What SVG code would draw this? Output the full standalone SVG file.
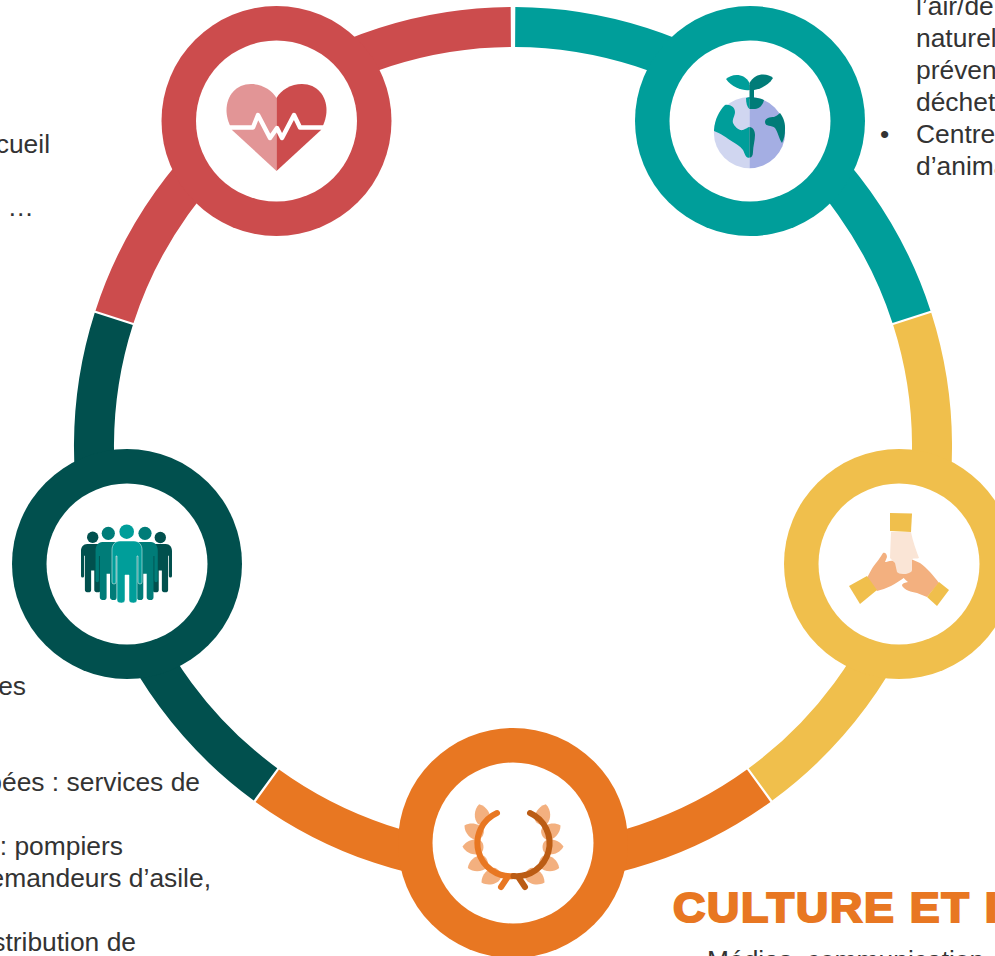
<svg xmlns="http://www.w3.org/2000/svg" width="995" height="956" viewBox="0 0 995 956">
<style>
.t{font-family:"Liberation Sans",Arial,sans-serif;font-size:26.4px;fill:#333}
.e{text-anchor:end}
.arc{fill:none;stroke-width:40}
.inner{fill:#fff}
.leaf{fill:#f3b07f}
</style>
<defs>
<path id="person" d="M120 541H134C139 541 142 545 142 550V582Q142 584 140 584Q138 584 138 582V556H137V600Q137 603 133.500 603Q129 603 129 600V575H125V600Q125 603 121.500 603Q117 603 117 600V556H116V582Q116 584 114 584Q112 584 112 582V550C112 545 115 541 120 541Z"/>
<path id="leaf" d="M0 -11C7 -7 9 2 6.500 7C4 11 -4 11 -6.500 7C-9 2 -7 -7 0 -11Z"/>
</defs>
<rect width="995" height="956" fill="#fff"/>
<g id="connectors">
<path class="arc" stroke="#009e9a" d="M515.200 27A419 419 0 0 1 911.500 316.800"/>
<path class="arc" stroke="#f0bf4c" d="M912.200 318.900A419 419 0 0 1 760.500 784.400"/>
<path class="arc" stroke="#e87722" d="M758.700 785.700A419 419 0 0 1 267.300 785.700"/>
<path class="arc" stroke="#01504e" d="M265.500 784.400A419 419 0 0 1 113.800 318.900"/>
<path class="arc" stroke="#cc4c4d" d="M114.500 316.800A419 419 0 0 1 510.800 27"/>
</g>
<g id="node-health">
<circle cx="276.500" cy="121" r="115" fill="#cc4c4d"/><circle class="inner" cx="276.500" cy="121" r="80.500"/>
<path fill="#e29596" d="M276.500 98C272 90 262 84 251 84C236 84 226.500 96 226.500 110C226.500 116 228 122 232 130L276.500 171Z"/>
<path fill="#cc4c4d" d="M276.500 98C281 90 291 84 302 84C317 84 326.500 96 326.500 110C326.500 116 325 122 321 130L276.500 171Z"/>
<path fill="none" stroke="#fff" stroke-width="4.500" stroke-linejoin="round" d="M228 127.500H253L258 115L270 138L277 128L282 138L294 115L300 127.500H325"/>
</g>
<g id="node-environment">
<circle cx="750" cy="121" r="115" fill="#009e9a"/><circle class="inner" cx="750" cy="121" r="80.500"/>
<path fill="#d0d6f0" d="M749.500 97A35.600 35.600 0 0 0 749.500 168.300Z"/>
<path fill="#a4aee3" d="M749.500 97A35.600 35.600 0 0 1 749.500 168.300Z"/>
<path fill="#009e9a" d="M714 130C715 119 719 111 725 105C730 104 735 107 735 112C735 116 732 119 733 123C735 127 739 131 743 130C746 129 748 127 749.500 127V157.500C746 159 745 154 743 150C740 146 736 144 733 142C727 138 720 133 714 131Z"/>
<path fill="#007c78" d="M749.500 127C753 127 755 131 755 135C755 141 753 146 753 152C753 156 751 158 749.500 157.500Z"/>
<path fill="#007c78" d="M780 113C784 118 785.500 124 785 130C785 135 784 139 782 143C779 139 778 132 775 128C772 125 765 127 765 122C765 118 770 117 774 117C776 116 778 115 780 113Z"/>
<path fill="#009e9a" d="M746 98C747 97.500 748 97.300 749.500 97.200V109C747 107 746 103 746 98Z"/>
<path fill="#007c78" d="M749.500 97.200C754 97 760 98 764 100C763 105 759 109 755 109C752 109 750.500 109 749.500 109Z"/>
<path fill="#009e9a" d="M749.500 83V90C744 91 732 88 726 79C731 74 744 72 749.500 83Z"/>
<path fill="#007c78" d="M749.500 83V90C754 91 767 88 773 78C768 73 755 72 749.500 83Z"/>
<rect x="749.500" y="85" width="4.500" height="14" fill="#007c78"/>
</g>
<g id="node-solidarity">
<circle cx="899" cy="564" r="115" fill="#f0bf4c"/><circle class="inner" cx="899" cy="564" r="80.500"/>
<path fill="#f3b07f" d="M911 559L920 563C927 568 934 576 939 583L927 597L917 593C911 592 905 590 903 587C901 585 902 583 908 582C903 578 900 574 903 570Z"/>
<path fill="#f3b07f" d="M867 578C869 574 871 570 873 567C876 563 880 558 883 553C885 552 887 554 887 557L885 562C887 562 892 559 895 562L905 577C896 584 886 589 877 591Z"/>
<path fill="#fae5d6" d="M891 532H911C913 542 916 550 919 558C917 559 914 558 912 559V570C912 572 910 572 909 573C907 574 905 574 903 574C900 574 898 573 897 572L895 563L890 558Z"/>
<path fill="#f0bf4c" d="M890 513L912 513.500L911 532L890 531Z"/>
<path fill="#f0bf4c" d="M849 586L867 576L877 590L860 604Z"/>
<path fill="#f0bf4c" d="M939 582L949 590L937 606L927 597Z"/>
</g>
<g id="node-culture">
<circle cx="513" cy="843" r="115" fill="#e87722"/><circle class="inner" cx="513" cy="843" r="80.500"/>
<use href="#leaf" class="leaf" transform="translate(482 815) rotate(-15)"/>
<use href="#leaf" class="leaf" transform="translate(474 831) rotate(-60)"/>
<use href="#leaf" class="leaf" transform="translate(473.500 847) rotate(-88)"/>
<use href="#leaf" class="leaf" transform="translate(478 864) rotate(-112)"/>
<use href="#leaf" class="leaf" transform="translate(491 877) rotate(-120)"/>
<use href="#leaf" class="leaf" transform="translate(543 815) rotate(15)"/>
<use href="#leaf" class="leaf" transform="translate(551 831) rotate(60)"/>
<use href="#leaf" class="leaf" transform="translate(552.500 847) rotate(88)"/>
<use href="#leaf" class="leaf" transform="translate(549 864) rotate(112)"/>
<use href="#leaf" class="leaf" transform="translate(535 877) rotate(120)"/>
<path fill="none" stroke="#e87722" stroke-width="6" stroke-linecap="round" d="M497 813A33 33 0 0 0 513.500 876"/>
<path fill="none" stroke="#e87722" stroke-width="6" stroke-linecap="round" d="M507 878L501 887"/>
<path fill="none" stroke="#bb5c14" stroke-width="6" stroke-linecap="round" d="M530 813A33 33 0 0 1 513.500 876"/>
<path fill="none" stroke="#bb5c14" stroke-width="6" stroke-linecap="round" d="M519 878L525 887"/>
</g>
<g id="node-society">
<circle cx="127" cy="564" r="115" fill="#01504e"/><circle class="inner" cx="127" cy="564" r="80.500"/>
<circle cx="92.700" cy="537.300" r="5.700" fill="#01504e"/><circle cx="160.300" cy="537.500" r="5.700" fill="#01504e"/>
<use href="#person" fill="#01504e" transform="translate(92.700 544) scale(.78 .78) translate(-127 -541)"/>
<use href="#person" fill="#01504e" transform="translate(160.300 544) scale(.78 .78) translate(-127 -541)"/>
<circle cx="108.300" cy="533.300" r="6.600" fill="#007c78"/><circle cx="145" cy="533.300" r="6.600" fill="#007c78"/>
<use href="#person" fill="#007c78" transform="translate(108.300 542) scale(.85 .935) translate(-127 -541)"/>
<use href="#person" fill="#007c78" transform="translate(145 542) scale(.85 .935) translate(-127 -541)"/>
<circle cx="126.700" cy="531.700" r="7.300" fill="#009e9a"/>
<use href="#person" fill="#009e9a" stroke="#fff" stroke-width=".5"/>
</g>
<g id="labels">
<text class="t e" x="50" y="153">cueil</text>
<text class="t e" x="34" y="216">…</text>
<text class="t e" x="26" y="695">es</text>
<text class="t e" x="200" y="791">pées : services de</text>
<text class="t e" x="123" y="855">: pompiers</text>
<text class="t e" x="211" y="887">emandeurs d’asile,</text>
<text class="t e" x="136" y="951">stribution de</text>
<text class="t" x="916" y="15">l’air/de</text>
<text class="t" x="916" y="47">naturel</text>
<text class="t" x="916" y="79">préven</text>
<text class="t" x="916" y="111">déchet</text>
<text class="t" x="880" y="143">•</text>
<text class="t" x="916" y="143">Centre</text>
<text class="t" x="916" y="175">d’anima</text>
<text transform="translate(673 921.500) scale(1.04 1)" font-family="Liberation Sans,Arial,sans-serif" font-weight="700" font-size="43" letter-spacing="1.700" fill="#e87722" stroke="#e87722" stroke-width="2.200">CULTURE ET I</text>
<text class="t" x="671" y="968">•</text>
<text class="t" x="707" y="969">Médias, communication</text>
</g>
</svg>
